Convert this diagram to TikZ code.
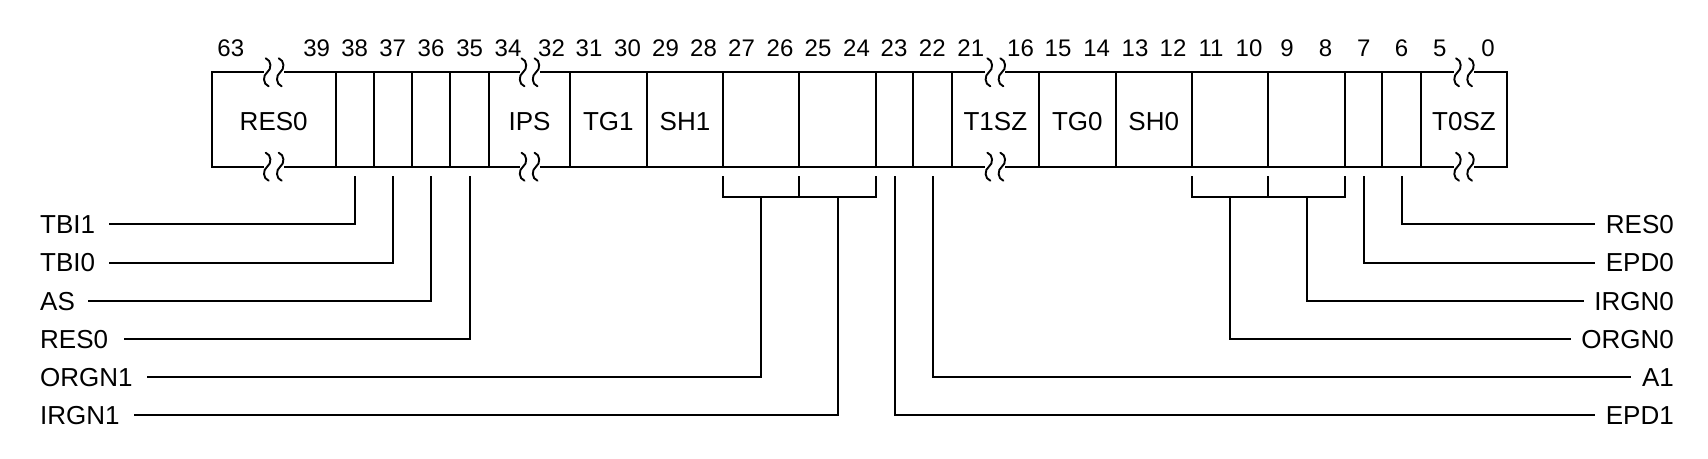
\documentclass[tikz,border=0pt]{standalone}
\usepackage{fontspec}
\setmainfont{Liberation Sans}
\newcommand\labfont{\fontsize{26}{30}\selectfont}
\newcommand\numfont{\fontsize{24}{28}\selectfont}
\begin{document}
\begin{tikzpicture}[x=1pt,y=-1pt,
  cell/.style={draw, line width=2.1pt, minimum height=94.4pt, inner sep=0pt, outer sep=0pt,
               font=\labfont, text height=21pt, text depth=0pt},
  bitnum/.style={anchor=base, inner sep=0pt, font=\numfont},
  lbl/.style={inner sep=0pt, font=\labfont, text height=18.6pt, text depth=0pt},
  conn/.style={line width=2pt},
  sq/.style={line width=1.9pt, line cap=round},
  brk/.pic={
    \fill[white] (-10,-3) rectangle (10,3);
    \draw[sq] (-8,-14) .. controls (-2,-12) and (-2,-3) .. (-6.5,0)
                       .. controls (-11,3) and (-11,12) .. (-5,14);
    \draw[sq] (5,-14) .. controls (11,-12) and (11,-3) .. (6.5,0)
                      .. controls (2,3) and (2,12) .. (8,14);
  }]
\useasboundingbox (0,0) rectangle (1708,458);

% register cells
\node[cell, minimum width=124pt]  (c1)  at (273.7,119.5) {RES0};
\node[cell, minimum width=38pt]   (c2)  at (354.7,119.5) {};
\node[cell, minimum width=38pt]   (c3)  at (392.7,119.5) {};
\node[cell, minimum width=38.6pt] (c4)  at (431,119.5) {};
\node[cell, minimum width=38.7pt] (c5)  at (469.65,119.5) {};
\node[cell, minimum width=81pt]   (c6)  at (529.5,119.5) {IPS};
\node[cell, minimum width=76.7pt] (c7)  at (608.35,119.5) {TG1};
\node[cell, minimum width=76.6pt] (c8)  at (685,119.5) {SH1};
\node[cell, minimum width=76pt]   (c9)  at (761.3,119.5) {};
\node[cell, minimum width=76.4pt] (c10) at (837.5,119.5) {};
\node[cell, minimum width=37.6pt] (c11) at (894.5,119.5) {};
\node[cell, minimum width=38.4pt] (c12) at (932.5,119.5) {};
\node[cell, minimum width=87.3pt] (c13) at (995.35,119.5) {T1SZ};
\node[cell, minimum width=76.7pt] (c14) at (1077.35,119.5) {TG0};
\node[cell, minimum width=76pt]   (c15) at (1153.7,119.5) {SH0};
\node[cell, minimum width=76.6pt] (c16) at (1230,119.5) {};
\node[cell, minimum width=76.7pt] (c17) at (1306.65,119.5) {};
\node[cell, minimum width=37.3pt] (c18) at (1363.65,119.5) {};
\node[cell, minimum width=38.4pt] (c19) at (1401.5,119.5) {};
\node[cell, minimum width=86.6pt] (c20) at (1464,119.5) {T0SZ};

% break marks
\foreach \c in {c1,c6,c13,c20}{
  \pic at (\c.north) {brk};
  \pic at (\c.south) {brk};
}

% bit numbers
\node[bitnum] (b63) at (230.8,56.7) {63};
\node[bitnum] (b39) at (316.6,56.7) {39};
\node[bitnum] (b38) at (354.7,56.7) {38};
\node[bitnum] (b37) at (392.7,56.7) {37};
\node[bitnum] (b36) at (431,56.7) {36};
\node[bitnum] (b35) at (469.7,56.7) {35};
\node[bitnum] (b34) at (508,56.7) {34};
\node[bitnum] (b32) at (551.5,56.7) {32};
\node[bitnum] (b31) at (589,56.7) {31};
\node[bitnum] (b30) at (627.5,56.7) {30};
\node[bitnum] (b29) at (665.5,56.7) {29};
\node[bitnum] (b28) at (703.5,56.7) {28};
\node[bitnum] (b27) at (741.5,56.7) {27};
\node[bitnum] (b26) at (780,56.7) {26};
\node[bitnum] (b25) at (818,56.7) {25};
\node[bitnum] (b24) at (856.5,56.7) {24};
\node[bitnum] (b23) at (894,56.7) {23};
\node[bitnum] (b22) at (932.3,56.7) {22};
\node[bitnum] (b21) at (970.8,56.7) {21};
\node[bitnum] (b16) at (1020.5,56.7) {16};
\node[bitnum] (b15) at (1058,56.7) {15};
\node[bitnum] (b14) at (1096.7,56.7) {14};
\node[bitnum] (b13) at (1135,56.7) {13};
\node[bitnum] (b12) at (1173,56.7) {12};
\node[bitnum] (b11) at (1211,56.7) {11};
\node[bitnum] (b10) at (1249,56.7) {10};
\node[bitnum] (b9)  at (1287,56.7) {9};
\node[bitnum] (b8)  at (1325.5,56.7) {8};
\node[bitnum] (b7)  at (1363.7,56.7) {7};
\node[bitnum] (b6)  at (1401.5,56.7) {6};
\node[bitnum] (b5)  at (1439.8,56.7) {5};
\node[bitnum] (b0)  at (1488,56.7) {0};

% field labels, left
\node[lbl, anchor=west] (lTBI1)  at (40,224.3) {TBI1};
\node[lbl, anchor=west] (lTBI0)  at (40,262.5) {TBI0};
\node[lbl, anchor=west] (lAS)    at (40,300.7) {AS};
\node[lbl, anchor=west] (lRES0)  at (40,338.9) {RES0};
\node[lbl, anchor=west] (lORGN1) at (40,377.1) {ORGN1};
\node[lbl, anchor=west] (lIRGN1) at (40,415.3) {IRGN1};
% field labels, right
\node[lbl, anchor=east] (rRES0)  at (1674,224.3) {RES0};
\node[lbl, anchor=east] (rEPD0)  at (1674,262.5) {EPD0};
\node[lbl, anchor=east] (rIRGN0) at (1674,300.7) {IRGN0};
\node[lbl, anchor=east] (rORGN0) at (1674,338.9) {ORGN0};
\node[lbl, anchor=east] (rA1)    at (1674,377.1) {A1};
\node[lbl, anchor=east] (rEPD1)  at (1674,415.3) {EPD1};

% bracket points
\coordinate (k9)  at ([yshift=-29.8pt]c9.south);
\coordinate (k10) at ([yshift=-29.8pt]c10.south);
\coordinate (k16) at ([yshift=-29.8pt]c16.south);
\coordinate (k17) at ([yshift=-29.8pt]c17.south);

% brackets
\draw[conn] ([yshift=-9.3pt]c9.south west) -- ([yshift=-29.8pt]c9.south west)
            -- ([yshift=-29.8pt]c10.south east) -- ([yshift=-9.3pt]c10.south east);
\draw[conn] ([yshift=-9.3pt]c9.south east) -- ([yshift=-29.8pt]c9.south east);
\draw[conn] ([yshift=-9.3pt]c16.south west) -- ([yshift=-29.8pt]c16.south west)
            -- ([yshift=-29.8pt]c17.south east) -- ([yshift=-9.3pt]c17.south east);
\draw[conn] ([yshift=-9.3pt]c16.south east) -- ([yshift=-29.8pt]c16.south east);

% left connectors
\draw[conn] ([yshift=-9.3pt]c2.south) |- ([xshift=14pt]lTBI1.east);
\draw[conn] ([yshift=-9.3pt]c3.south) |- ([xshift=14pt]lTBI0.east);
\draw[conn] ([yshift=-9.3pt]c4.south) |- ([xshift=13pt]lAS.east);
\draw[conn] ([yshift=-9.3pt]c5.south) |- ([xshift=16pt]lRES0.east);
\draw[conn] (k9)  |- ([xshift=14pt]lORGN1.east);
\draw[conn] (k10) |- ([xshift=14pt]lIRGN1.east);

% right connectors
\draw[conn] ([yshift=-9.3pt]c19.south) |- ([xshift=-11pt]rRES0.west);
\draw[conn] ([yshift=-9.3pt]c18.south) |- ([xshift=-11pt]rEPD0.west);
\draw[conn] (k17) |- ([xshift=-10pt]rIRGN0.west);
\draw[conn] (k16) |- ([xshift=-10pt]rORGN0.west);
\draw[conn] ([yshift=-9.3pt]c12.south) |- ([xshift=-11pt]rA1.west);
\draw[conn] ([yshift=-9.3pt]c11.south) |- ([xshift=-11pt]rEPD1.west);
\end{tikzpicture}
\end{document}
